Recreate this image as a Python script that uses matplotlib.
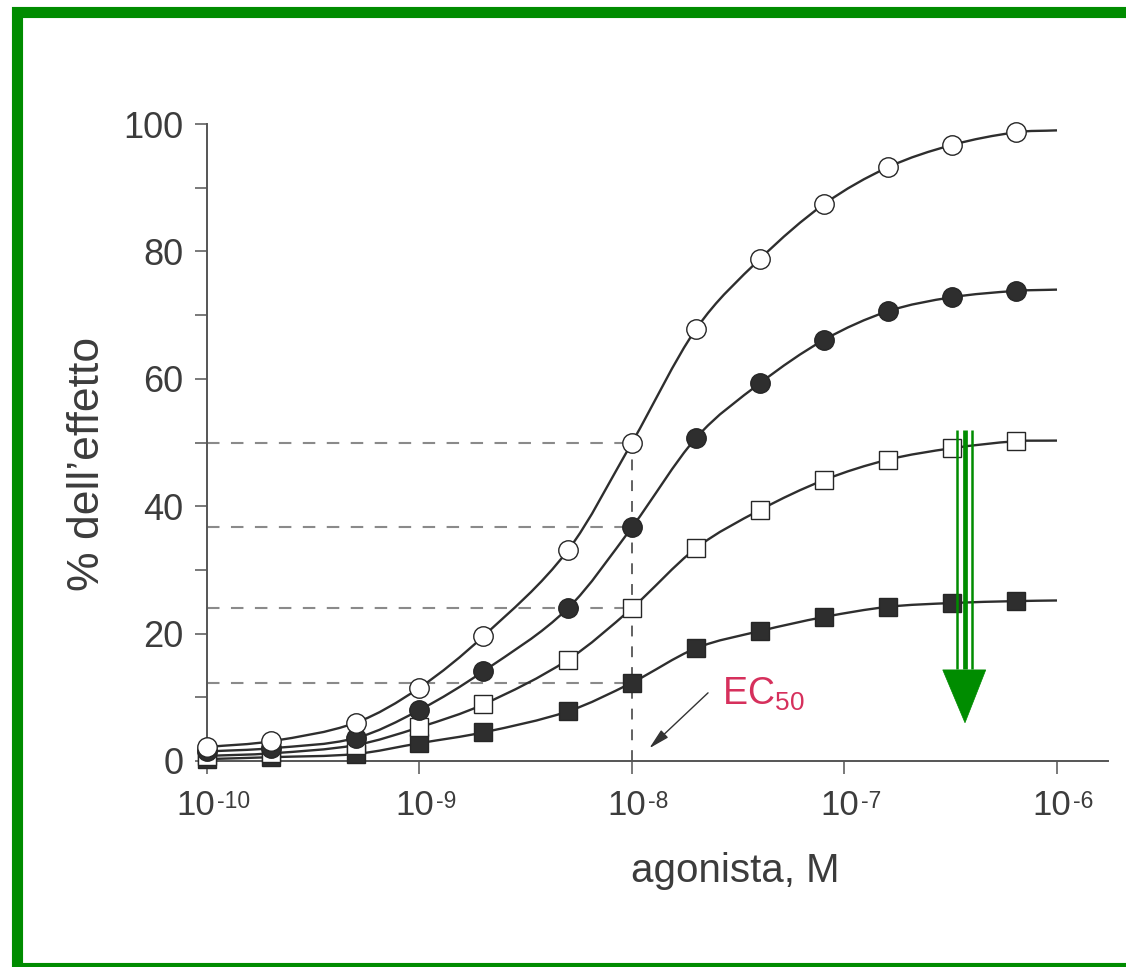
import math
import matplotlib
matplotlib.use("Agg")
import matplotlib.pyplot as plt
from matplotlib.ticker import FixedLocator, NullLocator, NullFormatter
from matplotlib.patches import Rectangle, Polygon, PathPatch
from matplotlib.path import Path

plt.rcParams['font.family'] = ['Liberation Sans', 'DejaVu Sans']
plt.rcParams['mathtext.default'] = 'regular'

# ---------------- data ----------------
conc = [1e-10, 2e-10, 5e-10, 1e-9, 2e-9, 5e-9, 1e-8, 2e-8, 4e-8, 8e-8, 1.6e-7, 3.2e-7, 6.4e-7]
open_circles   = [2.2, 3.1, 6.0, 11.5, 19.6, 33.1, 50.0, 67.8, 78.8, 87.4, 93.2, 96.7, 98.7]
filled_circles = [1.5, 2.0, 3.6, 8.0, 14.1, 24.0, 36.7, 50.7, 59.3, 66.1, 70.6, 72.8, 73.8]
open_squares   = [0.8, 1.2, 2.5, 5.3, 8.9, 15.9, 24.0, 33.4, 39.4, 44.1, 47.3, 49.1, 50.2]
filled_squares = [0.3, 0.6, 1.1, 2.8, 4.5, 7.8, 12.3, 17.7, 20.4, 22.6, 24.2, 24.8, 25.1]
curve_end_x = 1e-6
curve_end_y = [99.0, 74.0, 50.3, 25.2]

ec50_x = 1e-8
ec50_levels = [50.0, 36.7, 24.0, 12.3]

x_ticks = [1e-10, 1e-9, 1e-8, 1e-7, 1e-6]
x_tick_base = "10"
x_tick_exps = ["-10", "-9", "-8", "-7", "-6"]
y_ticks = [0, 20, 40, 60, 80, 100]
y_tick_labels = ["0", "20", "40", "60", "80", "100"]
y_minor = [10, 30, 50, 70, 90]

xlabel = "agonista, M"
ylabel = "% dell\u2019effetto"
ec50_label = "EC$_{50}$"

# ---------------- styling ----------------
GREEN = '#008c00'
TXT = '#3c3c3c'
LINE = '#2e2e2e'
W, H = 1126, 967

fig = plt.figure(figsize=(W / 100, H / 100), dpi=100)
fig.patch.set_facecolor('white')

# green frame (right side runs off the picture)
fig.patches.append(Rectangle((16.5 / W, (H - 967.5) / H), 1.2, (967.5 - 11.5) / H,
                             transform=fig.transFigure, fill=False,
                             edgecolor=GREEN, linewidth=8.0, clip_on=True))

ax_l, ax_r, ax_t, ax_b = 207, 1108, 124, 761
ax = fig.add_axes([ax_l / W, (H - ax_b) / H, (ax_r - ax_l) / W, (ax_b - ax_t) / H])
ax.set_xscale('log')
decade_px = 212.5
ax.set_xlim(1e-10, 10 ** (-10 + (ax_r - ax_l) / decade_px))
ax.set_ylim(0, 100)

for s in ['top', 'right']:
    ax.spines[s].set_visible(False)
for s in ['left', 'bottom']:
    ax.spines[s].set_color('#555555')
    ax.spines[s].set_linewidth(1.4)

ax.xaxis.set_major_locator(FixedLocator(x_ticks))
ax.xaxis.set_minor_locator(NullLocator())
ax.xaxis.set_major_formatter(NullFormatter())
ax.xaxis.set_minor_formatter(NullFormatter())
ax.set_yticks(y_ticks)
ax.set_yticklabels(y_tick_labels)
ax.yaxis.set_minor_locator(FixedLocator(y_minor))
ax.tick_params(axis='both', which='both', direction='out', length=9, width=1.1,
               color='#555555')
ax.tick_params(axis='y', which='major', labelsize=26, labelcolor=TXT, pad=8)

# dashed guide lines
for lvl in ec50_levels:
    ax.plot([x_ticks[0], ec50_x], [lvl, lvl], color='#8a8a8a', lw=1.5,
            dashes=(6, 5.5), zorder=1)
ax.plot([ec50_x, ec50_x], [0, ec50_levels[0]], color='#555555', lw=1.3,
        dashes=(6, 5.5), zorder=1)


def smooth_path(xs, ys):
    """Cubic Bezier path through the given points (Hermite tangents from
    neighbouring points), built in log10(x) space so it follows the log axis."""
    px = [math.log10(v) for v in xs]
    py = list(ys)
    n = len(px)
    slopes = []
    for i in range(n):
        a = max(i - 1, 0)
        b = min(i + 1, n - 1)
        slopes.append((py[b] - py[a]) / (px[b] - px[a]))
    verts = [(xs[0], py[0])]
    codes = [Path.MOVETO]
    for i in range(n - 1):
        h = px[i + 1] - px[i]
        c1x = px[i] + h / 3.0
        c1y = py[i] + slopes[i] * h / 3.0
        c2x = px[i + 1] - h / 3.0
        c2y = py[i + 1] - slopes[i + 1] * h / 3.0
        verts += [(10 ** c1x, c1y), (10 ** c2x, c2y), (xs[i + 1], py[i + 1])]
        codes += [Path.CURVE4] * 3
    return Path(verts, codes)


# curves
series = [
    (filled_squares, curve_end_y[3], 's', LINE),
    (open_squares, curve_end_y[2], 's', 'white'),
    (filled_circles, curve_end_y[1], 'o', LINE),
    (open_circles, curve_end_y[0], 'o', 'white'),
]
for i, (vals, endv, mk, fc) in enumerate(series):
    path = smooth_path(conc + [curve_end_x], list(vals) + [endv])
    ax.add_patch(PathPatch(path, fill=False, edgecolor=LINE, lw=1.7,
                           zorder=3 + i, clip_on=False))
    ax.plot(conc, vals, linestyle='none', marker=mk,
            markersize=14 if mk == 'o' else 13,
            markerfacecolor=fc, markeredgecolor='#262626', markeredgewidth=1.0,
            zorder=3 + i, clip_on=False)

# EC50 label and arrow
ax.text(2.65e-8, 8.8, ec50_label, color='#d6305c', fontsize=27, va='baseline', ha='left')
ax.annotate('', xy=(1.18e-8, 1.7), xytext=(2.33e-8, 11.0),
            arrowprops=dict(arrowstyle='-|>,head_length=0.9,head_width=0.22',
                            color='#333333', lw=1.0, mutation_scale=14))

# green arrow (three shafts + head)
for xs, lw in [(3.38e-7, 1.8), (3.69e-7, 3.4), (3.98e-7, 1.8)]:
    ax.plot([xs, xs], [52.0, 14.5], color=GREEN, lw=lw, zorder=10, solid_capstyle='butt')
ax.add_patch(Polygon([(2.9e-7, 14.3), (4.62e-7, 14.3), (3.69e-7, 6.0)], closed=True,
                     facecolor=GREEN, edgecolor=GREEN, lw=0.5, zorder=10))

# axis labels
ax.text((735 - ax_l) / (ax_r - ax_l), -(882 - ax_b) / (ax_b - ax_t), xlabel,
        transform=ax.transAxes, ha='center', va='baseline', fontsize=29, color=TXT)
ax.text(-(ax_l - 87.5) / (ax_r - ax_l), (ax_b - 464) / (ax_b - ax_t), ylabel,
        transform=ax.transAxes, ha='center', va='center', rotation=90,
        fontsize=32, color=TXT)

# x tick labels: "10" with a raised exponent, whole label centred near the tick
pairs = []
for t, e in zip(x_ticks, x_tick_exps):
    tm = ax.annotate(x_tick_base, xy=(t, 0), xycoords=('data', 'axes fraction'),
                     xytext=(0, -54), textcoords='offset pixels', ha='left',
                     va='baseline', fontsize=25, color=TXT, annotation_clip=False)
    te = ax.annotate(e, xy=(t, 0), xycoords=('data', 'axes fraction'),
                     xytext=(0, -47), textcoords='offset pixels', ha='left',
                     va='baseline', fontsize=16.5, color=TXT, annotation_clip=False)
    pairs.append((tm, te))

fig.canvas.draw()
r = fig.canvas.get_renderer()
gap = 2
for tm, te in pairs:
    wm = tm.get_window_extent(r).width
    we = te.get_window_extent(r).width
    total = wm + gap + we
    left = 6 - total / 2
    tm.set_position((left, -54))
    te.set_position((left + wm + gap, -47))

fig.savefig('out.png', dpi=100, facecolor='white')
